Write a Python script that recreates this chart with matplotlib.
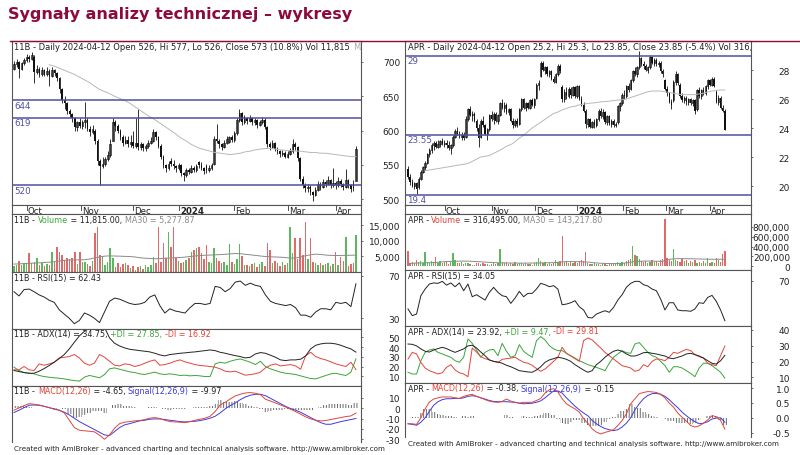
import numpy as np
import matplotlib
matplotlib.use("Agg")
import matplotlib.pyplot as plt
from matplotlib.lines import Line2D

W, H = 800, 456
RED = "#e0453c"
GREEN = "#3aa53a"
BLUE = "#3c3cdc"
LEVEL = "#5050a0"
MAROON = "#8c0a3c"
plt.rcParams["hatch.linewidth"] = 0.7

months = ["Oct", "Nov", "Dec", "2024", "Feb", "Mar", "Apr"]

# ---------------- 11B (left chart) ----------------
l_open = [690, 697, 700, 690, 698, 703, 708, 705, 708, 685,
          690, 682, 688, 683, 687, 680, 688, 684, 676, 660,
          645, 640, 628, 624, 618, 605, 612, 606, 612, 615,
          603, 598, 600, 585, 555, 548, 552, 558, 565, 585,
          612, 606, 600, 590, 582, 586, 580, 584, 578, 582,
          576, 580, 574, 577, 582, 585, 598, 590, 578, 562,
          550, 546, 556, 552, 548, 545, 550, 538, 535, 542,
          540, 546, 543, 554, 550, 545, 548, 542, 546, 552,
          588, 585, 580, 576, 582, 584, 590, 586, 596, 615,
          625, 612, 618, 614, 618, 612, 615, 608, 612, 616,
          605, 580, 576, 582, 573, 570, 566, 568, 562, 566,
          570, 580, 576, 560, 530, 520, 516, 518, 510, 506,
          514, 522, 518, 525, 522, 528, 520, 524, 520, 526,
          522, 518, 528, 520, 522, 526]
l_high = [702, 704, 702, 700, 706, 712, 710, 714, 710, 695,
          692, 692, 690, 692, 690, 692, 690, 686, 678, 662,
          650, 642, 632, 626, 620, 614, 618, 615, 642, 618,
          606, 608, 602, 588, 558, 562, 562, 570, 588, 618,
          615, 610, 602, 594, 592, 592, 594, 600, 618, 632,
          584, 582, 580, 586, 590, 602, 600, 592, 580, 565,
          552, 556, 560, 557, 550, 553, 552, 540, 545, 546,
          550, 549, 552, 556, 554, 547, 552, 550, 553, 592,
          610, 588, 582, 586, 592, 592, 594, 600, 618, 632,
          627, 622, 620, 622, 620, 618, 617, 616, 620, 618,
          606, 584, 586, 584, 576, 572, 572, 570, 570, 574,
          588, 584, 578, 562, 534, 524, 522, 520, 512, 518,
          526, 525, 530, 528, 534, 530, 545, 526, 532, 530,
          524, 544, 530, 522, 528, 577]
l_low = [688, 692, 676, 688, 695, 700, 700, 703, 670, 682,
         678, 680, 680, 680, 665, 678, 680, 672, 655, 640,
         632, 624, 620, 612, 600, 600, 604, 602, 604, 600,
         592, 595, 580, 550, 520, 545, 548, 555, 562, 585,
         600, 596, 586, 578, 580, 576, 576, 574, 575, 572,
         572, 570, 570, 574, 580, 584, 586, 574, 558, 546,
         540, 542, 548, 544, 540, 542, 534, 527, 532, 536,
         538, 540, 540, 545, 542, 536, 538, 540, 542, 550,
         582, 575, 572, 574, 580, 582, 584, 584, 594, 612,
         608, 610, 610, 612, 608, 608, 604, 606, 610, 602,
         576, 572, 574, 570, 566, 562, 563, 560, 560, 564,
         568, 572, 556, 526, 516, 510, 510, 506, 498, 504,
         512, 514, 516, 518, 520, 516, 518, 515, 518, 518,
         514, 516, 516, 510, 512, 526]
l_close = [697, 700, 690, 698, 703, 708, 705, 710, 685, 690,
           682, 688, 683, 687, 680, 688, 684, 676, 660, 645,
           640, 628, 624, 618, 605, 612, 606, 612, 615, 603,
           598, 602, 585, 555, 548, 552, 558, 565, 580, 612,
           606, 600, 590, 582, 586, 580, 584, 578, 582, 576,
           580, 574, 577, 582, 585, 598, 590, 578, 562, 550,
           546, 552, 552, 548, 545, 550, 538, 535, 542, 540,
           546, 543, 548, 550, 545, 541, 542, 546, 550, 588,
           585, 580, 576, 582, 588, 590, 586, 596, 615, 625,
           612, 618, 614, 618, 612, 615, 608, 612, 616, 605,
           580, 576, 582, 573, 570, 566, 568, 562, 566, 570,
           580, 576, 560, 530, 520, 516, 518, 510, 506, 514,
           522, 518, 525, 522, 528, 520, 524, 520, 526, 522,
           518, 528, 520, 515, 517, 573]
l_volume = [1800, 2200, 3500, 2000, 2800, 2400, 5900, 2600, 3200, 4300,
            2000, 2600, 1800, 2400, 2200, 6400, 3000, 8000, 6400, 5200,
            3600, 4300, 4000, 4300, 6400, 2500, 6400, 3000, 3200, 2400,
            1800, 3500, 12400, 14500, 5400, 5000, 2000, 3000, 7500, 4500,
            1500, 2800, 1300, 2400, 2800, 2000, 1200, 1800, 600, 1400,
            1800, 800, 2000, 1500, 2200, 4800, 2600, 14500, 3000, 9100,
            4200, 12900, 8000, 14500, 4200, 3500, 2800, 3200, 3800, 4200,
            6400, 6800, 7500, 8000, 6000, 4000, 8600, 3000, 2600, 7500,
            4500, 3500, 2600, 3000, 2000, 8800, 3200, 2400, 4000, 8800,
            5000, 2000, 2200, 1800, 2400, 2800, 1600, 2400, 3000, 1800,
            9100, 7000, 2800, 3400, 2600, 1800, 3200, 2000, 2800, 14200,
            6000, 10700, 4000, 10700, 5200, 16100, 4000, 10700, 3000, 2600,
            2200, 2800, 2000, 2400, 2600, 1800, 2400, 6400, 2200, 4800,
            3400, 11000, 1800, 2400, 2800, 11815]
l_price_ma = [None, None, None, None, None, None, None, 696, 694, 691,
              688, 685, 682, 678, 674, 670, 665, 660, 657, 654,
              650, 647, 644, 640, 635, 630, 625, 620, 616, 611,
              606, 601, 596, 590, 586, 581, 577, 574, 572, 570,
              568, 567, 566, 565, 566, 567, 569, 570, 572, 573,
              574, 574, 573, 572, 571, 571, 570, 570, 569, 568,
              568, 567, 567, 566, 565, 564, 563, 562, 562]
l_vol_ma = [2400, 2450, 2550, 2650, 2700, 2800, 2900, 3000, 3150, 3350,
            3600, 3700, 3750, 3760, 3800, 4000, 4400, 4700, 4950, 5050,
            5000, 4950, 4880, 4840, 4700, 4450, 4300, 4200, 4100, 4150,
            4300, 4350, 4450, 4500, 4650, 4850, 5000, 5160, 5250, 5300,
            5380, 5450, 5550, 5700, 5800, 5750, 5550, 5380, 5200, 5000,
            4840, 4750, 4680, 4620, 4500, 4300, 4350, 4700, 5100, 5400,
            5600, 5500, 5300, 5200, 5160, 5180, 5220, 5250, 5277.87]
l_rsi = [55, 51, 57, 57.5, 55, 52, 50, 47, 45, 38,
         34, 30, 25, 28, 35, 33, 30, 26, 36, 46,
         49, 48, 46, 44, 43, 43.5, 45, 50, 52, 42,
         35, 39, 37, 36, 35, 40, 44, 44, 43, 44,
         60, 59, 55, 58, 64, 65, 61, 63, 61, 60,
         52, 46, 44, 43, 42, 43, 40, 33, 33, 31,
         36, 39, 39, 38, 45, 44, 45, 41, 62.43]
l_adx = [15.9, 14.8, 13.8, 13.1, 13.1, 15.2, 17.9, 21, 24.4, 28.2,
         32.3, 38.1, 44.9, 51.4, 56.1, 59.6, 62, 63, 60.2, 49.3,
         43.9, 41.1, 39.1, 37.7, 37, 36.3, 35.7, 35, 33.6, 31.9,
         30.9, 32.3, 32.9, 33.6, 34, 34.6, 35, 35.7, 36.3, 37,
         36.3, 34.6, 33.6, 32.3, 31.2, 30.2, 28.8, 29.5, 32.9, 34.3,
         33.6, 31.6, 29.5, 26.8, 26.1, 26.8, 26.8, 27.5, 30.9, 38.1,
         41.8, 43.2, 43.9, 43.9, 43.2, 41.8, 39.8, 38.1, 34.75]
l_pdi = [19.3, 15.9, 13.8, 13.1, 12.5, 10.8, 9.7, 9, 8.4, 8,
         7.3, 6.3, 5.6, 5, 9, 10.8, 9.7, 8.4, 11.8, 17.6,
         18.6, 17.2, 15.9, 14.5, 13.8, 12.5, 11.8, 13.1, 14.2, 12.5,
         11.8, 12.5, 11.8, 10.8, 11.1, 10.4, 10.8, 10.4, 9.7, 9.7,
         22.7, 24.4, 23.4, 25.4, 26.8, 27.8, 26.1, 24.4, 22, 25.4,
         20, 17.6, 15.9, 14.2, 13.1, 12.5, 11.8, 10.4, 9, 7.7,
         7.3, 9, 10.8, 12.5, 13.1, 11.8, 10.8, 14.2, 27.85]
l_mdi = [16.6, 16.6, 20, 16.6, 15.9, 22.7, 21.3, 22.7, 24.4, 28.8,
         29.5, 30.2, 32.3, 28.8, 23.4, 21.3, 23.4, 32.3, 29.5, 25.4,
         21.3, 20.6, 22.7, 22, 20, 21.3, 23.4, 25.4, 26.8, 21.3,
         22, 23.4, 25.4, 26.8, 24.8, 23.4, 22, 21, 20.6, 20,
         19.3, 17.6, 15.2, 14.5, 15.2, 13.1, 11.1, 11.8, 12.5, 14.2,
         18.6, 21.3, 22.7, 20.6, 21.3, 22, 20.6, 17.2, 31.2, 34.6,
         30.2, 28.2, 26.8, 24.8, 22.7, 21.3, 20, 24.4, 16.92]
l_macd = [-1.9, 0.3, 2.6, 4.5, 3.9, 3.2, 1.9, 0.6, -1, -1.9,
          -4.5, -11.7, -18.8, -21.4, -22, -22.4, -23, -26.3, -30.2, -26,
          -19.5, -15, -13.6, -13, -12.3, -12, -11, -9.7, -9.1, -10,
          -11.7, -13, -13.3, -13.6, -14, -13, -11.7, -10.7, -9.7, -7.8,
          -3.2, 3.2, 5.8, 9.1, 12, 13.6, 14.9, 15.3, 14.6, 13.3,
          8.8, 7.1, 5.2, 3.2, 1.3, -1, -3.2, -5.8, -8.4, -10.4,
          -11.7, -12.3, -12, -11, -10, -9.1, -8.1, -7.5, -4.65]
l_signal = [-4.2, -1.9, 0.6, 2.9, 3.2, 2.9, 1.9, 0.6, -0.6, -1.9,
            -3.9, -6.5, -9.7, -13, -15.6, -18.2, -20.8, -23.4, -26, -26.6,
            -22.7, -18.8, -16.2, -15, -13.6, -12.3, -11.7, -10.7, -10.4, -10.4,
            -11, -11.7, -12.3, -13, -13.3, -13, -12.7, -12, -11, -9.7,
            -7.8, -4.5, -0.6, 2.6, 5.2, 8.4, 11, 12.7, 13.6, 13.6,
            12.3, 9.7, 7.1, 4.5, 1.9, -0.3, -1.9, -3.9, -6.5, -9.1,
            -11.7, -14, -15.6, -15.6, -14.3, -13, -12, -11, -9.97]
l_levels = [644, 619, 520]
l_month_pos = [5, 26.5, 47, 65, 87, 108, 127]

# ---------------- APR (right chart) ----------------
r_open = [21.2, 20.6, 20.3, 20.0, 20.2, 19.9, 20.5, 21.0, 21.3, 21.6,
          22.2, 22.5, 22.8, 23.0, 22.7, 22.9, 23.1, 22.9, 23.0, 22.8,
          22.6, 22.8, 23.4, 23.8, 23.6, 23.4, 23.5, 23.4, 24.6, 25.3,
          24.9, 25.0, 24.5, 24.0, 23.4, 24.5, 24.2, 23.6, 23.9, 24.9,
          24.6, 25.0, 24.5, 24.9, 25.7, 25.4, 25.6, 25.1, 25.3, 24.5,
          24.2, 24.5, 24.3, 25.3, 26.0, 25.4, 25.7, 25.4, 25.9, 25.6,
          26.1, 27.0, 27.6, 28.5, 28.0, 28.2, 27.7, 27.9, 27.4, 27.2,
          27.7, 28.3, 26.8, 26.0, 26.5, 26.2, 26.7, 26.3, 26.8, 26.2,
          26.9, 26.0, 25.6, 25.2, 24.3, 24.6, 24.1, 24.4, 24.2, 24.6,
          25.2, 24.8, 25.1, 24.4, 24.8, 24.3, 24.5, 24.2, 24.4, 25.5,
          25.7, 26.3, 26.2, 26.9, 26.7, 27.3, 27.9, 27.7, 28.2, 28.8,
          28.4, 28.3, 28.0, 28.2, 28.9, 28.5, 28.7, 28.4, 28.5, 27.9,
          27.3, 26.7, 26.4, 25.8, 25.9, 27.2, 27.7, 27.0, 26.2, 25.9,
          26.1, 25.8, 26.0, 25.7, 25.9, 25.3, 26.6, 26.2, 26.6, 26.4,
          26.9, 27.3, 27.0, 27.4, 26.5, 25.8, 26.1, 25.4, 25.2]
r_high = [21.4, 20.8, 20.5, 20.3, 20.3, 20.6, 21.1, 21.4, 21.7, 22.3,
          22.6, 23.0, 23.1, 23.1, 23.2, 23.2, 23.3, 23.2, 23.2, 23.1,
          22.9, 23.5, 23.9, 24.1, 23.8, 23.7, 23.7, 24.8, 25.4, 25.5,
          25.2, 25.1, 24.6, 24.3, 24.6, 24.8, 24.3, 24.0, 25.0, 25.2,
          25.1, 25.1, 25.0, 25.8, 26.0, 25.8, 25.7, 25.4, 25.4, 24.7,
          24.6, 24.7, 25.4, 26.1, 26.1, 25.8, 25.8, 26.0, 26.1, 26.1,
          27.1, 27.3, 28.6, 28.6, 28.3, 28.3, 28.0, 28.0, 27.6, 27.8,
          28.4, 28.4, 27.0, 26.7, 26.8, 26.8, 26.8, 26.9, 26.9, 27.0,
          27.0, 26.2, 25.8, 25.3, 24.7, 24.7, 24.5, 24.6, 24.7, 25.3,
          25.4, 25.3, 25.2, 24.9, 24.9, 24.6, 24.6, 24.4, 25.6, 25.8,
          26.4, 26.6, 27.0, 27.1, 27.4, 28.0, 28.2, 28.3, 29.3, 28.9,
          28.6, 28.4, 28.3, 29.0, 29.0, 28.8, 28.8, 28.6, 28.6, 28.1,
          27.4, 26.9, 26.5, 26.0, 27.3, 27.9, 27.8, 27.1, 26.4, 26.2,
          26.2, 26.1, 26.1, 26.0, 26.0, 26.7, 26.8, 26.7, 26.8, 27.0,
          27.4, 27.4, 27.5, 27.5, 26.6, 26.3, 26.2, 25.6, 25.3]
r_low = [20.5, 20.1, 19.9, 19.8, 19.45, 19.8, 20.4, 20.9, 21.1, 21.5,
         22.0, 22.3, 22.5, 22.6, 22.6, 22.7, 22.8, 22.7, 22.6, 22.5,
         22.2, 22.7, 23.3, 23.5, 23.3, 23.2, 23.2, 23.3, 24.5, 24.8,
         24.5, 24.4, 23.8, 22.7, 23.3, 24.1, 23.5, 23.2, 23.8, 24.5,
         24.3, 24.4, 24.3, 24.8, 25.3, 25.1, 25.0, 24.9, 24.4, 24.0,
         24.1, 24.1, 24.2, 25.2, 25.3, 25.2, 25.3, 25.3, 25.5, 25.4,
         26.0, 26.6, 27.5, 27.9, 27.7, 27.6, 27.5, 27.3, 27.1, 27.1,
         27.6, 27.8, 25.8, 25.8, 26.0, 26.1, 26.1, 26.2, 26.1, 26.1,
         25.9, 25.5, 25.1, 24.0, 24.1, 24.0, 24.0, 24.0, 24.1, 24.5,
         24.7, 24.6, 24.3, 24.2, 24.2, 24.1, 24.1, 24.1, 24.3, 25.2,
         25.6, 26.0, 26.1, 26.5, 26.6, 27.2, 27.6, 27.5, 28.1, 28.3,
         28.1, 27.9, 27.8, 28.1, 28.4, 28.3, 28.3, 28.2, 27.8, 27.5,
         26.6, 26.2, 25.7, 25.3, 25.8, 27.0, 27.0, 26.1, 25.8, 25.7,
         25.6, 25.6, 25.6, 25.5, 25.0, 25.2, 26.1, 26.0, 26.3, 26.3,
         26.7, 26.9, 26.9, 26.8, 25.7, 25.6, 25.3, 25.1, 23.85]
r_close = [20.6, 20.3, 20.0, 20.2, 19.8, 20.5, 21.0, 21.3, 21.6, 22.2,
           22.5, 22.8, 23.0, 22.7, 22.9, 23.1, 22.9, 23.0, 22.8, 22.6,
           22.8, 23.4, 23.8, 23.6, 23.4, 23.5, 23.3, 24.6, 25.3, 24.9,
           25.0, 24.5, 24.0, 23.3, 24.5, 24.2, 23.6, 23.9, 24.9, 24.6,
           25.0, 24.5, 24.9, 25.7, 25.4, 25.6, 25.1, 25.3, 24.5, 24.2,
           24.5, 24.3, 25.3, 26.0, 25.4, 25.7, 25.4, 25.9, 25.6, 26.0,
           27.0, 27.1, 28.5, 28.0, 28.2, 27.7, 27.9, 27.4, 27.2, 27.7,
           28.3, 27.9, 26.0, 26.5, 26.2, 26.7, 26.3, 26.8, 26.2, 26.9,
           26.0, 25.6, 25.2, 24.3, 24.6, 24.1, 24.4, 24.2, 24.6, 25.2,
           24.8, 25.1, 24.4, 24.8, 24.3, 24.5, 24.2, 24.3, 25.5, 25.7,
           26.3, 26.2, 26.9, 26.6, 27.3, 27.9, 27.7, 28.2, 28.8, 28.4,
           28.3, 28.0, 28.2, 28.9, 28.5, 28.7, 28.4, 28.5, 27.9, 27.7,
           26.7, 26.4, 25.8, 25.6, 27.2, 27.7, 27.1, 26.2, 25.9, 26.1,
           25.8, 26.0, 25.7, 25.9, 25.2, 26.6, 26.2, 26.6, 26.4, 26.9,
           27.3, 27.0, 27.4, 26.9, 25.8, 26.1, 25.4, 25.2, 23.85]
r_volume_k = [316, 60, 90, 70, 120, 80, 100, 60, 282, 90,
              70, 110, 80, 180, 70, 110, 60, 90, 100, 50,
              80, 262, 120, 70, 60, 90, 40, 70, 60, 50,
              30, 20, 60, 70, 50, 60, 40, 50, 30, 40,
              60, 50, 70, 350, 90, 60, 80, 40, 70, 50,
              90, 40, 60, 70, 40, 60, 50, 40, 30, 60,
              90, 168, 110, 60, 80, 40, 70, 50, 60, 128,
              90, 110, 605, 80, 100, 70, 80, 60, 90, 70,
              100, 120, 110, 296, 60, 40, 50, 70, 40, 50,
              30, 40, 60, 30, 40, 50, 40, 60, 80, 60,
              90, 70, 100, 120, 150, 417, 235, 200, 140, 100,
              80, 110, 70, 90, 120, 80, 100, 70, 120, 150,
              955, 160, 120, 100, 350, 130, 110, 90, 140, 100,
              120, 70, 100, 80, 120, 60, 90, 70, 110, 60,
              160, 70, 80, 60, 160, 130, 90, 250, 316.495]
r_price_ma = [None, None, None, None, 21.05, 21.1, 21.15, 21.2, 21.25, 21.3,
              21.35, 21.4, 21.45, 21.5, 21.55, 21.7, 21.85, 22.0, 22.05, 22.1,
              22.25, 22.4, 22.55, 22.75, 22.85, 23.05, 23.3, 23.5, 23.75, 24.0,
              24.2, 24.4, 24.6, 24.8, 25.0, 25.1, 25.25, 25.35, 25.45, 25.5,
              25.6, 25.65, 25.7, 25.72, 25.75, 25.8, 25.82, 25.85, 25.9, 25.92,
              25.95, 26.0, 26.1, 26.2, 26.3, 26.4, 26.5, 26.55, 26.55, 26.55,
              26.5, 26.45, 26.4, 26.35, 26.3, 26.3, 26.3, 26.3, 26.35, 26.4,
              26.5, 26.55, 26.6, 26.62, 26.62]
r_vol_ma_k = [60, 62, 65, 68, 70, 72, 75, 80, 90, 95,
              100, 102, 104, 105, 104, 100, 95, 90, 85, 80,
              75, 72, 70, 68, 66, 65, 64, 64, 65, 66,
              67, 68, 70, 72, 75, 80, 90, 95, 96, 95,
              93, 90, 85, 75, 68, 62, 58, 56, 55, 56,
              60, 70, 85, 95, 100, 105, 106, 104, 102, 100,
              110, 140, 150, 155, 155, 154, 152, 150, 148, 146,
              144, 142, 142, 143, 143.2178]
r_rsi = [44.6, 38.6, 40, 56.5, 62.5, 67, 68, 67.6, 69.4, 66,
         68, 64.6, 68, 61, 67, 55.6, 57.4, 55, 52.6, 59.5,
         64, 59.5, 56.5, 55.6, 49.6, 54.4, 60.4, 55.6, 58.6, 58.6,
         62.5, 67.6, 66.4, 64.6, 65.5, 62.5, 48.4, 49, 50.2, 52,
         46.6, 43.7, 37, 36.5, 40, 41.6, 43, 41.6, 46, 52.6,
         57.4, 64, 67.6, 69.4, 69.4, 66.4, 65.2, 62.5, 61, 53.5,
         43.7, 50.2, 50.2, 43.7, 43, 43, 42.5, 44.6, 50.2, 49.6,
         55, 56.8, 51.4, 43.7, 34.05]
r_adx = [31.1, 30.9, 29.9, 28, 26.5, 26, 27.3, 28.2, 29, 28.2,
         26.9, 25.8, 26.9, 28, 29.9, 30.3, 28.6, 26, 23.7, 21,
         20.1, 19.7, 18.9, 17.6, 16.7, 15.5, 14.2, 13.8, 13.4, 13.2,
         14.6, 16.7, 19.5, 21, 21.8, 22.7, 22.2, 21.4, 20.1, 18,
         16.3, 14.6, 13.2, 14.2, 18, 20.1, 22.7, 24.8, 26.5, 27.3,
         26.5, 24.8, 23.5, 23.5, 24.4, 25.6, 25.8, 25.2, 24.8, 24.1,
         23.5, 22.2, 21.8, 22.7, 23.5, 24.8, 25.2, 24.4, 23.5, 22.2,
         20.5, 18.9, 18.4, 20.5, 23.92]
r_pdi = [13.2, 12.1, 12.1, 20.5, 25.8, 27.3, 28, 25.8, 24.8, 23.7,
         22.7, 20.5, 19.5, 22.7, 34.3, 31.5, 27.3, 22.7, 25.8, 27.3,
         27.7, 23.7, 31.5, 26.5, 22.7, 23.7, 30.7, 26.5, 24.4, 22.7,
         33.2, 35.8, 33.7, 30.1, 28, 26.9, 26.9, 25.2, 23.7, 22.2,
         20.5, 19.3, 18, 17.2, 16.3, 15.3, 14.2, 18.9, 22.7, 24.8,
         26.9, 25.6, 25.2, 31.1, 32, 29, 25.8, 23.7, 22.7, 20.1,
         17.4, 13.2, 16.7, 16.7, 15.9, 14.2, 12.5, 10.4, 15.9, 18.9,
         18.9, 17.4, 15.3, 13.2, 9.47]
r_mdi = [21.6, 25.8, 24.8, 19.5, 15.9, 14.2, 13.2, 12.1, 12.9, 16.3,
         18, 14.6, 12.9, 12.1, 10.4, 28.6, 26, 23.1, 21.8, 21,
         20.1, 19.3, 21.4, 21.8, 22.2, 22.7, 21, 19.5, 18.9, 17.6,
         15.5, 13.8, 15.3, 17.6, 20.1, 22.7, 29, 25.2, 23.5, 21.8,
         20.1, 33.2, 34.9, 33.7, 31.1, 28.6, 25.8, 23.7, 21.6, 19.5,
         17.4, 16.7, 15.9, 13.8, 14.6, 18, 16.7, 20.1, 21.6, 21.4,
         20.5, 22.7, 25.8, 25.2, 26.5, 27.7, 26.9, 24.4, 23.1, 22.2,
         18.9, 18, 17.4, 23.7, 29.81]
r_macd = [-0.2, -0.2, -0.22, 0, 0.3, 0.53, 0.63, 0.67, 0.7, 0.7,
          0.7, 0.67, 0.65, 0.72, 0.76, 0.79, 0.72, 0.67, 0.61, 0.56,
          0.53, 0.52, 0.55, 0.63, 0.56, 0.52, 0.49, 0.52, 0.52, 0.52,
          0.58, 0.65, 0.83, 0.94, 0.98, 0.87, 0.64, 0.47, 0.38, 0.3,
          0.19, -0.03, -0.18, -0.37, -0.48, -0.54, -0.49, -0.45, -0.4, -0.26,
          -0.09, 0.13, 0.47, 0.64, 0.81, 0.85, 0.88, 0.87, 0.85, 0.79,
          0.67, 0.49, 0.36, 0.16, 0.02, -0.11, -0.26, -0.31, -0.27, -0.18,
          -0.07, 0.07, 0.04, -0.09, -0.38]
r_signal = [-0.2, -0.22, -0.25, -0.15, 0, 0.22, 0.42, 0.54, 0.61, 0.64,
            0.64, 0.65, 0.65, 0.67, 0.72, 0.74, 0.72, 0.67, 0.63, 0.58,
            0.55, 0.54, 0.54, 0.54, 0.53, 0.52, 0.49, 0.47, 0.48, 0.49,
            0.52, 0.57, 0.67, 0.79, 0.9, 0.9, 0.83, 0.67, 0.53, 0.39,
            0.27, 0.16, 0.07, -0.09, -0.2, -0.29, -0.36, -0.4, -0.43, -0.4,
            -0.31, -0.18, 0, 0.27, 0.47, 0.64, 0.75, 0.81, 0.82, 0.79,
            0.72, 0.61, 0.47, 0.34, 0.19, 0.07, -0.04, -0.13, -0.2, -0.18,
            -0.13, -0.04, -0.01, 0, -0.15]
r_levels = [29, 23.55, 19.4]
r_month_pos = [17.2, 39, 59.4, 79, 100.3, 120.7, 141]

fig = plt.figure(figsize=(W / 100, H / 100), dpi=100)
renderer = fig.canvas.get_renderer()


def panel(x0, y0, x1, y1, xlim, ylim):
    ax = fig.add_axes([x0 / W, 1 - y1 / H, (x1 - x0) / W, (y1 - y0) / H])
    ax.set_xlim(*xlim)
    ax.set_ylim(*ylim)
    ax.set_xticks([])
    ax.yaxis.tick_right()
    for sp in ax.spines.values():
        sp.set_linewidth(0.8)
        sp.set_color("#555555")
    return ax


def yticks(ax, ticks, labels, x1, label_right):
    ax.set_yticks(ticks, labels)
    ax.tick_params(axis="y", direction="out", length=1.5, width=0.6, color="#555555",
                   pad=(label_right - x1) * 0.72 - 1.5, labelsize=6.5, labelcolor="#222222")
    for t in ax.get_yticklabels():
        t.set_horizontalalignment("right")


def text_width(s, size):
    t = fig.text(0, 0, s + "|", fontsize=size)
    w = t.get_window_extent(renderer).width
    t.remove()
    t = fig.text(0, 0, "|", fontsize=size)
    w -= t.get_window_extent(renderer).width
    t.remove()
    return w


def rich(ax, x, y, parts, size=5.8):
    done = ""
    for s, c in parts:
        dx = text_width(done, size) if done else 0
        ax.text((x + dx) / W, 1 - y / H, s, color=c, fontsize=size,
                transform=fig.transFigure, va="center", ha="left", clip_on=True)
        done += s


def line_x(values, n):
    return np.linspace(0, n - 1, len(values))


def draw_chart(x0, x1, label_right, ys, xlim, lims, d):
    o, hi, lo, c = (np.array(v, dtype=float) for v in (d["open"], d["high"], d["low"], d["close"]))
    n = len(c)
    x = np.arange(n)
    up = c >= o

    # price
    ax = panel(x0, ys[0], x1, ys[1], xlim, lims["price"])
    ax.vlines(x, lo, hi, color="#111111", lw=0.6)
    ax.bar(x[up], (c - o)[up], bottom=o[up], width=0.65, facecolor="white",
           edgecolor="#111111", lw=0.5)
    ax.bar(x[~up], (o - c)[~up], bottom=c[~up], width=0.65, color="#111111", lw=0)
    ma = np.array(d["price_ma"], dtype=float)
    ax.plot(line_x(ma, n), ma, color="#b8b8b8", lw=0.7)
    for lev, lab in zip(d["levels"], d["level_labels"]):
        ax.axhline(lev, color=LEVEL, lw=1.1)
        ax.annotate(lab, xy=(0, lev), xycoords=("axes fraction", "data"), xytext=(1.5, -3.8),
                    textcoords="offset points", fontsize=6.3, color=LEVEL, va="center")
    yticks(ax, *lims["price_ticks"], x1, label_right)
    rich(ax, x0 + 2.5, ys[0] + 5.5, d["title"], size=6.05)

    # date strip
    sx = panel(x0, ys[1], x1, ys[2], xlim, (0, 1))
    sx.set_yticks([])
    for pos, lab in zip(d["month_pos"], months):
        sx.plot([pos, pos], [0.45, 1.0], color="#333333", lw=0.6)
        sx.text(pos + 0.5, 0.38, lab, fontsize=6.2, va="center", ha="left",
                fontweight="bold" if lab == "2024" else "normal", color="#222222")

    # volume
    vx = panel(x0, ys[2], x1, ys[3], xlim, lims["vol"])
    vol = np.array(d["volume"], dtype=float)
    vx.bar(x, vol, width=0.6, color=np.where(up, "#5cb85c", "#e06a6a"), lw=0)
    vma = np.array(d["vol_ma"], dtype=float)
    vx.plot(line_x(vma, n), vma, color="#8a8a8a", lw=0.7)
    yticks(vx, *lims["vol_ticks"], x1, label_right)
    rich(vx, x0 + 2.5, ys[2] + 6, d["vol_title"])

    # RSI
    rx = panel(x0, ys[3], x1, ys[4], xlim, lims["rsi"])
    rsi = np.array(d["rsi"], dtype=float)
    rx.plot(line_x(rsi, n), rsi, color="#222222", lw=0.7)
    yticks(rx, *lims["rsi_ticks"], x1, label_right)
    rich(rx, x0 + 2.5, ys[3] + 5, d["rsi_title"])

    # ADX
    ax2 = panel(x0, ys[4], x1, ys[5], xlim, lims["adx"])
    for key, col in (("pdi", GREEN), ("mdi", RED), ("adx", "#222222")):
        v = np.array(d[key], dtype=float)
        ax2.plot(line_x(v, n), v, color=col, lw=0.7)
    yticks(ax2, *lims["adx_ticks"], x1, label_right)
    rich(ax2, x0 + 2.5, ys[4] + 5, d["adx_title"])

    # MACD
    mx = panel(x0, ys[5], x1, ys[6], xlim, lims["macd"])
    mx.spines["bottom"].set_visible(False)
    macd = np.array(d["macd"], dtype=float)
    sig = np.array(d["signal"], dtype=float)
    mxs = line_x(macd, n)
    step = mxs[1] - mxs[0]
    mx.bar(mxs, macd - sig, width=step, facecolor="none", edgecolor="#6a6a6a",
           lw=0, hatch="||||||")
    mx.plot(mxs, sig, color=BLUE, lw=0.7)
    mx.plot(mxs, macd, color=RED, lw=0.7)
    yticks(mx, *lims["macd_ticks"], x1, label_right)
    rich(mx, x0 + 2.5, ys[5] + 5, d["macd_title"])


left = dict(open=l_open, high=l_high, low=l_low, close=l_close, volume=l_volume,
            price_ma=l_price_ma, vol_ma=l_vol_ma, rsi=l_rsi, adx=l_adx, pdi=l_pdi, mdi=l_mdi,
            macd=l_macd, signal=l_signal, levels=l_levels,
            level_labels=[str(v) for v in l_levels], month_pos=l_month_pos,
            title=[("11B - Daily 2024-04-12 Open 526, Hi 577, Lo 526, Close 573 (10.8%) Vol 11,815 ", "#222222"),
                   ("MA", "#aaaaaa")],
            vol_title=[("11B - ", "#222222"), ("Volume", GREEN), (" = 11,815.00, ", "#222222"),
                       ("MA30 = 5,277.87", "#8a8a8a")],
            rsi_title=[("11B - RSI(15) = 62.43", "#222222")],
            adx_title=[("11B - ADX(14) = 34.75, ", "#222222"), ("+DI = 27.85, ", GREEN),
                       ("-DI = 16.92", RED)],
            macd_title=[("11B - ", "#222222"), ("MACD(12,26)", RED), (" = -4.65, ", "#222222"),
                        ("Signal(12,26,9)", BLUE), (" = -9.97", "#222222")])
left_lims = dict(price=(491.5, 730.6),
                 price_ticks=([500, 550, 600, 650, 700], ["500", "550", "600", "650", "700"]),
                 vol=(-160, 18550),
                 vol_ticks=([5000, 10000, 15000], ["5,000", "10,000", "15,000"]),
                 rsi=(20, 73.5), rsi_ticks=([30, 70], ["30", "70"]),
                 adx=(0, 58.5),
                 adx_ticks=([10, 20, 30, 40, 50], ["10", "20", "30", "40", "50"]),
                 macd=(-32.9, 21.7),
                 macd_ticks=([-30, -20, -10, 0, 10], ["-30", "-20", "-10", "0", "10"]))

right = dict(open=r_open, high=r_high, low=r_low, close=r_close,
             volume=[v * 1000 for v in r_volume_k], price_ma=r_price_ma,
             vol_ma=[v * 1000 for v in r_vol_ma_k], rsi=r_rsi, adx=r_adx, pdi=r_pdi, mdi=r_mdi,
             macd=r_macd, signal=r_signal, levels=r_levels,
             level_labels=["29", "23.55", "19.4"], month_pos=r_month_pos,
             title=[("APR - Daily 2024-04-12 Open 25.2, Hi 25.3, Lo 23.85, Close 23.85 (-5.4%) Vol 316,", "#222222")],
             vol_title=[("APR - ", "#222222"), ("Volume", RED), (" = 316,495.00, ", "#222222"),
                        ("MA30 = 143,217.80", "#8a8a8a")],
             rsi_title=[("APR - RSI(15) = 34.05", "#222222")],
             adx_title=[("APR - ADX(14) = 23.92, ", "#222222"), ("+DI = 9.47, ", GREEN),
                        ("-DI = 29.81", RED)],
             macd_title=[("APR - ", "#222222"), ("MACD(12,26)", RED), (" = -0.38, ", "#222222"),
                         ("Signal(12,26,9)", BLUE), (" = -0.15", "#222222")])
right_lims = dict(price=(18.69, 30.0),
                  price_ticks=([20, 22, 24, 26, 28], ["20", "22", "24", "26", "28"]),
                  vol=(-74700, 1056600),
                  vol_ticks=([0, 200000, 400000, 600000, 800000],
                             ["0", "200,000", "400,000", "600,000", "800,000"]),
                  rsi=(29.3, 79.6), rsi_ticks=([70], ["70"]),
                  adx=(6.4, 42.5),
                  adx_ticks=([10, 20, 30, 40], ["10", "20", "30", "40"]),
                  macd=(-0.644, 1.168),
                  macd_ticks=([-0.5, 0, 0.5, 1.0], ["-0.5", "0.0", "0.5", "1.0"]))

draw_chart(12, 361, 400, [42, 206, 215, 273, 330, 387, 443], (-0.79, 137.0), left_lims, left)
draw_chart(405, 751, 790, [42, 206, 215, 271, 327, 384, 438], (-1.4, 160.2), right_lims, right)

fig.text(8 / W, 1 - 15 / H, "Sygnały analizy technicznej – wykresy", color=MAROON,
         fontsize=11.5, fontweight="bold", va="center", ha="left")
fig.add_artist(Line2D([10 / W, 1.0], [1 - 41.5 / H] * 2, color=MAROON, lw=1.0))
footer = "Created with AmiBroker - advanced charting and technical analysis software. http://www.amibroker.com"
fig.text(14 / W, 1 - 449 / H, footer, fontsize=5.1, color="#222222", va="center")
fig.text(408 / W, 1 - 444.5 / H, footer, fontsize=5.1, color="#222222", va="center")

fig.savefig("out.png", dpi=100)
